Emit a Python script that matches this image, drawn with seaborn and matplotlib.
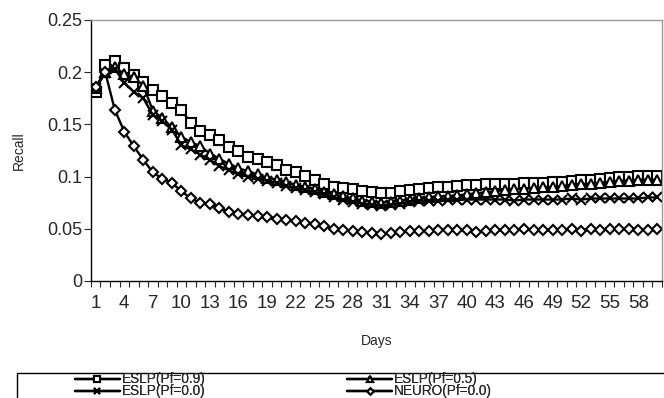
"""
Recall over days for ESLP / NEURO settings
"""
import numpy as np
import pandas as pd
import seaborn as sns
import matplotlib.pyplot as plt
from matplotlib.patches import Rectangle
from matplotlib.ticker import FixedLocator

days = list(range(1, 61))

eslp_09 = [0.181, 0.207, 0.211, 0.204, 0.197, 0.191, 0.183, 0.177, 0.170, 0.164,
           0.151, 0.144, 0.140, 0.135, 0.128, 0.124, 0.119, 0.1165, 0.114, 0.111,
           0.106, 0.104, 0.1005, 0.097, 0.093, 0.090, 0.089, 0.088, 0.0865, 0.085,
           0.084, 0.084, 0.086, 0.087, 0.088, 0.089, 0.090, 0.090, 0.091, 0.092,
           0.092, 0.093, 0.093, 0.093, 0.093, 0.094, 0.094, 0.094, 0.095, 0.095,
           0.096, 0.097, 0.097, 0.098, 0.099, 0.100, 0.100, 0.101, 0.101, 0.101]
eslp_05 = [0.185, 0.200, 0.205, 0.198, 0.195, 0.187, 0.163, 0.156, 0.147, 0.138,
           0.133, 0.129, 0.122, 0.117, 0.112, 0.108, 0.105, 0.102, 0.099, 0.097,
           0.095, 0.092, 0.090, 0.088, 0.085, 0.083, 0.081, 0.079, 0.077, 0.076,
           0.075, 0.076, 0.077, 0.078, 0.079, 0.080, 0.081, 0.081, 0.082, 0.083,
           0.084, 0.085, 0.086, 0.087, 0.088, 0.088, 0.089, 0.090, 0.090, 0.091,
           0.092, 0.093, 0.093, 0.094, 0.095, 0.096, 0.096, 0.097, 0.097, 0.097]
eslp_00 = [0.185, 0.199, 0.203, 0.190, 0.181, 0.175, 0.159, 0.153, 0.145, 0.130,
           0.126, 0.121, 0.116, 0.110, 0.106, 0.102, 0.100, 0.098, 0.096, 0.094,
           0.091, 0.089, 0.087, 0.085, 0.083, 0.080, 0.078, 0.076, 0.074, 0.073,
           0.072, 0.073, 0.074, 0.076, 0.077, 0.077, 0.077, 0.078, 0.078, 0.078,
           0.078, 0.078, 0.078, 0.078, 0.077, 0.078, 0.078, 0.078, 0.078, 0.078,
           0.079, 0.078, 0.079, 0.079, 0.079, 0.079, 0.079, 0.079, 0.080, 0.080]
neuro_00 = [0.186, 0.200, 0.164, 0.143, 0.129, 0.116, 0.104, 0.098, 0.094, 0.086,
            0.079, 0.075, 0.074, 0.070, 0.066, 0.064, 0.063, 0.062, 0.061, 0.059,
            0.058, 0.057, 0.056, 0.055, 0.053, 0.050, 0.049, 0.048, 0.047, 0.046,
            0.045, 0.046, 0.047, 0.048, 0.048, 0.048, 0.049, 0.049, 0.049, 0.049,
            0.047, 0.048, 0.049, 0.049, 0.049, 0.050, 0.049, 0.049, 0.049, 0.049,
            0.050, 0.048, 0.050, 0.049, 0.050, 0.050, 0.050, 0.049, 0.049, 0.050]

series_names = ['ESLP(Pf=0.9)', 'ESLP(Pf=0.5)', 'ESLP(Pf=0.0)', 'NEURO(Pf=0.0)']
series_values = [eslp_09, eslp_05, eslp_00, neuro_00]

sns.set_style('ticks')
plt.rcParams['font.family'] = ['Liberation Sans', 'DejaVu Sans']

# long table for seaborn
frames = []
for name, vals in zip(series_names, series_values):
    frames.append(pd.DataFrame({'Days': days, 'Recall': vals, 'series': name}))
df = pd.concat(frames, ignore_index=True)

markers = {'ESLP(Pf=0.9)': 's', 'ESLP(Pf=0.5)': '^',
           'ESLP(Pf=0.0)': 'x', 'NEURO(Pf=0.0)': 'D'}
sizes = {'ESLP(Pf=0.9)': 7, 'ESLP(Pf=0.5)': 6.5,
         'ESLP(Pf=0.0)': 7, 'NEURO(Pf=0.0)': 5}

fig = plt.figure(figsize=(6.64, 3.98), dpi=100)
ax = fig.add_axes([0.137, 0.294, 0.86, 0.656])

for name in series_names:
    sub = df[df['series'] == name]
    sns.lineplot(sub, x='Days', y='Recall', color='black', marker=markers[name],
                 markersize=sizes[name], markerfacecolor='white',
                 markeredgecolor='black', markeredgewidth=1.5, linewidth=1.7,
                 label=name, ax=ax, legend=False)

ax.set_xlim(0.5, 60.5)
ax.set_ylim(0, 0.25)
ax.set_yticks([0, 0.05, 0.1, 0.15, 0.2, 0.25])
ax.set_yticklabels(['0', '0.05', '0.1', '0.15', '0.2', '0.25'])
ax.set_xticks(list(range(1, 61, 3)))
ax.set_xticklabels([str(d) for d in range(1, 61, 3)])
ax.xaxis.set_minor_locator(FixedLocator(np.arange(0.5, 61, 1)))
ax.tick_params(axis='x', which='major', length=0, labelsize=13.5, pad=10)
ax.tick_params(axis='x', which='minor', length=4, width=0.8, direction='out')
ax.tick_params(axis='y', length=5, width=0.8, labelsize=13, pad=1.5)
ax.set_xlabel('Days', fontsize=10, labelpad=16)
ax.set_ylabel('Recall', fontsize=10, labelpad=15)

for side in ['left', 'bottom']:
    ax.spines[side].set_linewidth(1.0)
    ax.spines[side].set_color('black')
for side in ['top', 'right']:
    ax.spines[side].set_linewidth(1.0)
    ax.spines[side].set_color('#999999')

# legend frame sits below the plot and runs off the figure
fig.patches.append(Rectangle((17 / 664, -0.05), 1.0, 0.05 + 25 / 398,
                             transform=fig.transFigure, fill=False,
                             edgecolor='black', linewidth=1.0))

# two single-row legends so the rows can sit as tight as in the original
handles, labels = ax.get_legend_handles_labels()
rows = [([0, 1], 379.5), ([2, 3], 391.5)]
for idx, y_px in rows:
    leg = fig.legend([handles[i] for i in idx], [labels[i] for i in idx],
                     loc='center left', bbox_to_anchor=(75 / 664, 1 - y_px / 398),
                     ncol=2, frameon=False, fontsize=9.8, handlelength=3.3,
                     handletextpad=0.15, columnspacing=10.4, borderpad=0,
                     borderaxespad=0, markerscale=0.65)
    fig.add_artist(leg)

plt.savefig('out.png', dpi=100)
